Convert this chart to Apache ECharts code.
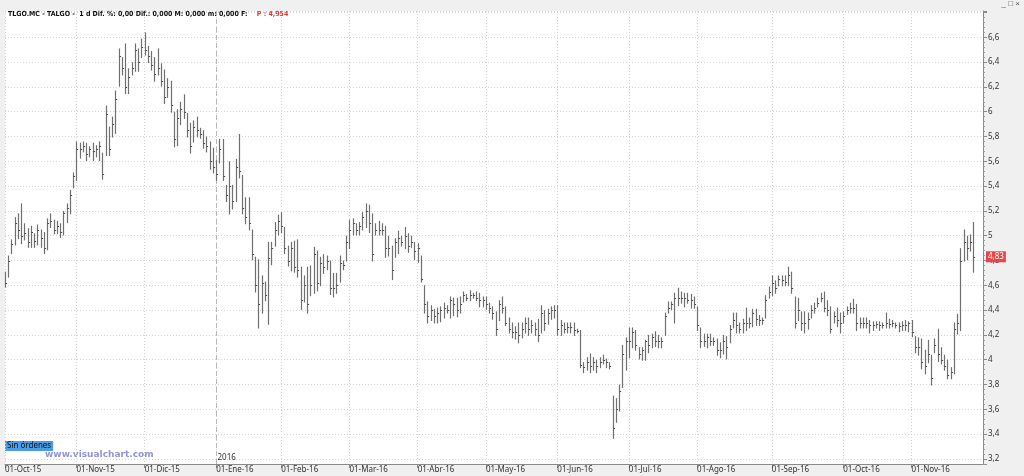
<!DOCTYPE html>
<html><head><meta charset="utf-8">
<script src="https://cdn.jsdelivr.net/npm/echarts@6/dist/echarts.min.js"></script>
<style>html,body{margin:0;padding:0;background:#f0f0f0;}#c{width:1024px;height:476px;}</style>
</head><body><div id="c"></div>
<script>
// month-start tick labels and their trading-day indices
const tickLabels = ['01-Oct-15','01-Nov-15','01-Dic-15','01-Ene-16','01-Feb-16','01-Mar-16','01-Abr-16','01-May-16','01-Jun-16','01-Jul-16','01-Ago-16','01-Sep-16','01-Oct-16','01-Nov-16'];
const monthStartIdx = [0,22,43,65,85,106,127,148,170,192,213,236,258,279];
const yearMarkIdx = 65;
const yearMarkLabel = '2016';
const slotCount = 302;

// daily highs per month
const hiOct15 = [4.71,4.84,4.97,5.15,5.18,5.26,5.10,5.06,5.08,5.02,5.09,5.05,5.03,5.14,5.18,5.13,5.12,5.10,5.20,5.26,5.37,5.51];
const hiNov15 = [5.76,5.75,5.76,5.75,5.72,5.75,5.73,5.76,5.67,6.05,5.88,5.96,6.17,6.51,6.44,6.55,6.35,6.40,6.55,6.51,6.59];
const hiDic15 = [6.64,6.53,6.49,6.44,6.51,6.39,6.34,6.27,6.25,6.00,6.02,6.08,6.14,5.99,5.91,5.93,5.96,5.87,5.85,5.80,5.76,5.71];
const hiEne16 = [5.61,5.78,5.78,5.41,5.60,5.41,5.62,5.82,5.49,5.31,5.31,5.05,4.83,4.81,4.68,4.63,4.95,4.95,5.11,5.17];
const hiFeb16 = [5.19,5.07,4.92,4.95,4.96,4.97,4.75,4.68,4.75,4.76,4.91,4.88,4.83,4.85,4.84,4.80,4.70,4.70,4.84,4.80,5.00];
const hiMar16 = [5.13,5.14,5.10,5.11,5.19,5.26,5.25,5.18,5.10,5.12,5.10,5.08,5.00,4.92,4.98,5.04,5.00,5.07,5.02,5.00,4.95];
const hiAbr16 = [4.94,4.84,4.60,4.47,4.44,4.41,4.42,4.43,4.46,4.44,4.51,4.50,4.50,4.51,4.55,4.53,4.56,4.54,4.55,4.54,4.51];
const hiMay16 = [4.51,4.46,4.43,4.39,4.48,4.51,4.43,4.34,4.30,4.27,4.30,4.30,4.34,4.34,4.32,4.30,4.33,4.44,4.40,4.41,4.43,4.44];
const hiJun16 = [4.44,4.32,4.30,4.30,4.30,4.30,4.25,4.24,3.98,4.02,4.05,4.02,4.00,4.02,4.04,4.01,3.98,3.71,3.69,3.80,4.12,4.18];
const hiJul16 = [4.26,4.26,4.24,4.10,4.10,4.16,4.20,4.21,4.23,4.20,4.18,4.38,4.47,4.47,4.54,4.58,4.55,4.54,4.54,4.53,4.51];
const hiAgo16 = [4.43,4.26,4.21,4.21,4.21,4.18,4.17,4.14,4.20,4.19,4.28,4.38,4.38,4.30,4.33,4.42,4.34,4.41,4.41,4.36,4.34,4.52,4.59];
const hiSep16 = [4.68,4.64,4.68,4.68,4.68,4.75,4.71,4.51,4.50,4.39,4.39,4.38,4.44,4.46,4.50,4.54,4.55,4.48,4.43,4.39,4.42,4.38];
const hiOct16 = [4.39,4.43,4.46,4.49,4.45,4.34,4.34,4.34,4.32,4.31,4.31,4.31,4.30,4.38,4.33,4.32,4.30,4.30,4.31,4.32,4.31];
const hiNov16 = [4.32,4.19,4.18,4.17,4.08,4.16,4.04,4.17,4.25,4.10,4.04,4.00,3.94,4.30,4.37,4.90,5.05,5.00,5.01,5.11];

// daily lows per month
const loOct15 = [4.59,4.67,4.86,4.93,4.98,4.94,4.97,4.91,4.91,4.91,4.93,4.91,4.86,4.89,5.07,5.02,5.02,4.99,5.01,5.11,5.18,5.39];
const loNov15 = [5.45,5.63,5.68,5.61,5.64,5.61,5.64,5.61,5.46,5.65,5.65,5.80,5.83,6.21,6.30,6.15,6.15,6.30,6.33,6.33,6.44];
const loDic15 = [6.46,6.40,6.34,6.25,6.30,6.21,6.07,6.12,6.00,5.72,5.73,5.90,5.95,5.80,5.67,5.76,5.80,5.79,5.71,5.68,5.54,5.51];
const loEne16 = [5.45,5.59,5.45,5.28,5.18,5.22,5.28,5.47,5.18,5.10,5.05,4.81,4.55,4.26,4.38,4.48,4.29,4.77,4.92,5.01];
const loFeb16 = [5.03,4.86,4.76,4.72,4.71,4.67,4.41,4.47,4.38,4.52,4.54,4.56,4.60,4.70,4.73,4.53,4.51,4.54,4.63,4.73,4.80];
const loMar16 = [4.90,5.01,5.01,5.01,5.05,5.07,5.03,4.80,5.01,5.01,5.01,4.83,4.84,4.65,4.83,4.86,4.92,4.90,4.87,4.91,4.81];
const loAbr16 = [4.79,4.63,4.38,4.30,4.32,4.30,4.30,4.31,4.34,4.38,4.34,4.36,4.35,4.38,4.47,4.48,4.48,4.50,4.48,4.43,4.43];
const loMay16 = [4.41,4.38,4.33,4.20,4.32,4.38,4.28,4.22,4.18,4.17,4.14,4.18,4.22,4.20,4.22,4.20,4.15,4.22,4.24,4.29,4.33,4.34];
const loJun16 = [4.20,4.20,4.22,4.22,4.22,4.20,4.22,3.94,3.90,3.92,3.90,3.92,3.90,3.94,3.97,3.94,3.93,3.37,3.50,3.59,3.78,3.92];
const loJul16 = [4.02,4.10,4.08,4.01,4.00,4.00,4.06,4.10,4.11,4.10,4.10,4.20,4.38,4.41,4.30,4.44,4.46,4.43,4.46,4.42,4.42];
const loAgo16 = [4.24,4.10,4.11,4.10,4.12,4.12,4.04,4.02,4.05,4.01,4.14,4.26,4.22,4.22,4.22,4.24,4.26,4.27,4.28,4.28,4.29,4.34,4.50];
const loSep16 = [4.52,4.54,4.60,4.60,4.60,4.60,4.54,4.26,4.32,4.24,4.22,4.25,4.34,4.38,4.43,4.47,4.39,4.36,4.22,4.30,4.27,4.22];
const loOct16 = [4.30,4.37,4.38,4.38,4.24,4.26,4.26,4.26,4.22,4.24,4.26,4.24,4.26,4.26,4.26,4.27,4.26,4.23,4.24,4.24,4.23];
const loNov16 = [4.19,4.06,4.04,3.93,3.89,3.98,3.80,4.06,3.99,3.97,3.92,3.85,3.85,3.89,4.21,4.24,4.80,4.81,4.88,4.71];

// daily closes per month
const clOct15 = [4.62,4.80,4.93,5.10,5.05,5.00,5.02,4.95,5.03,4.96,5.05,4.98,4.90,5.10,5.12,5.05,5.08,5.03,5.18,5.22,5.33,5.48];
const clNov15 = [5.70,5.70,5.72,5.66,5.70,5.68,5.70,5.72,5.50,5.98,5.70,5.90,6.10,6.45,6.35,6.20,6.28,6.35,6.50,6.40,6.52];
const clDic15 = [6.50,6.45,6.38,6.30,6.35,6.25,6.12,6.20,6.05,5.78,5.95,6.02,6.00,5.85,5.72,5.88,5.85,5.82,5.75,5.72,5.60,5.55];
const clEne16 = [5.50,5.70,5.48,5.33,5.40,5.28,5.55,5.52,5.22,5.15,5.10,4.85,4.60,4.45,4.62,4.52,4.82,4.90,5.05,5.12];
const clFeb16 = [5.08,4.90,4.80,4.90,4.75,4.72,4.48,4.60,4.45,4.60,4.85,4.62,4.78,4.75,4.80,4.58,4.58,4.60,4.78,4.76,4.95];
const clMar16 = [5.05,5.10,5.05,5.08,5.15,5.20,5.10,4.85,5.05,5.05,5.05,4.90,4.90,4.72,4.95,4.98,4.95,5.00,4.92,4.95,4.88];
const clAbr16 = [4.90,4.65,4.45,4.35,4.40,4.35,4.38,4.40,4.42,4.40,4.48,4.45,4.40,4.45,4.52,4.50,4.52,4.52,4.50,4.48,4.48];
const clMay16 = [4.45,4.42,4.38,4.25,4.45,4.42,4.30,4.25,4.22,4.22,4.20,4.25,4.30,4.25,4.28,4.25,4.20,4.38,4.30,4.38,4.40,4.40];
const clJun16 = [4.25,4.28,4.25,4.26,4.26,4.24,4.23,3.96,3.94,3.98,3.95,3.98,3.95,3.98,4.00,3.98,3.95,3.45,3.60,3.75,4.05,4.15];
const clJul16 = [4.15,4.22,4.12,4.05,4.08,4.15,4.12,4.18,4.15,4.15,4.15,4.35,4.42,4.45,4.50,4.50,4.50,4.50,4.48,4.48,4.45];
const clAgo16 = [4.28,4.15,4.15,4.18,4.15,4.15,4.08,4.08,4.15,4.10,4.25,4.32,4.28,4.25,4.30,4.30,4.30,4.38,4.33,4.32,4.32,4.48,4.55];
const clSep16 = [4.62,4.58,4.65,4.64,4.63,4.68,4.58,4.30,4.40,4.30,4.30,4.33,4.40,4.42,4.46,4.50,4.42,4.40,4.25,4.35,4.32,4.30];
const clOct16 = [4.35,4.40,4.42,4.42,4.30,4.30,4.30,4.30,4.28,4.28,4.29,4.28,4.28,4.30,4.29,4.30,4.28,4.27,4.28,4.28,4.30];
const clNov16 = [4.22,4.10,4.10,3.98,3.95,4.05,3.85,4.12,4.05,4.00,3.95,3.88,3.90,4.25,4.30,4.80,4.95,4.90,4.95,4.83];

const high = [].concat(hiOct15,hiNov15,hiDic15,hiEne16,hiFeb16,hiMar16,hiAbr16,hiMay16,hiJun16,hiJul16,hiAgo16,hiSep16,hiOct16,hiNov16);
const low = [].concat(loOct15,loNov15,loDic15,loEne16,loFeb16,loMar16,loAbr16,loMay16,loJun16,loJul16,loAgo16,loSep16,loOct16,loNov16);
const close = [].concat(clOct15,clNov15,clDic15,clEne16,clFeb16,clMar16,clAbr16,clMay16,clJun16,clJul16,clAgo16,clSep16,clOct16,clNov16);

const categories = Array.from({length: slotCount}, (_, i) => String(i));
const ohlc = high.map((h, i) => [i, h, low[i], close[i]]);
const lastIdx = ohlc.length - 1;

const chart = echarts.init(document.getElementById('c'), null, {renderer: 'canvas'});
const isMonth = (i) => monthStartIdx.indexOf(i) >= 0;
const fmtNum = (v) => v.toFixed(2).replace('.', ',');
const onStep = (v) => Math.abs(v * 5 - Math.round(v * 5)) < 0.01 && v < 6.7;

chart.setOption({
  animation: false,
  backgroundColor: '#f0f0f0',
  textStyle: {fontFamily: 'Noto Sans'},
  title: {
    left: 3, top: 0,
    text: '{a|TLGO.MC - TALGO -  1 d Dif. %: 0,00 Dif.: 0,000 M: 0,000 m: 0,000 F:}  {b|P : 4,954}',
    textStyle: {rich: {
      a: {fontSize: 7, color: '#111', fontFamily: 'Liberation Sans Narrow, DejaVu Sans Condensed, sans-serif'},
      b: {fontSize: 7, color: '#e23a3a', fontFamily: 'Liberation Sans Narrow, DejaVu Sans Condensed, sans-serif'}
    }}
  },
  grid: {left: 5, right: 41, top: 11, bottom: 12, show: true, backgroundColor: '#ffffff', borderWidth: 0},
  xAxis: {
    type: 'category', data: categories, boundaryGap: false,
    axisLine: {lineStyle: {color: '#8a8a8a', width: 1}},
    axisTick: {show: true, length: 4, interval: (i) => isMonth(i), lineStyle: {color: '#8a8a8a'}},
    axisLabel: {
      interval: (i) => isMonth(i), align: 'left', margin: 2, fontSize: 8, color: '#333',
      formatter: (v, i) => tickLabels[monthStartIdx.indexOf(Number(v))] || ''
    },
    splitLine: {show: true, interval: (i) => isMonth(i), lineStyle: {color: '#d4d4d4', type: [1, 2]}}
  },
  yAxis: {
    type: 'value', position: 'right', min: 3.159, max: 6.812, splitNumber: 18, scale: true,
    axisLine: {show: true, lineStyle: {color: '#8a8a8a'}},
    axisTick: {show: true, length: 4, lineStyle: {color: '#8a8a8a'}},
    minorTick: {show: true, splitNumber: 5, length: 2, lineStyle: {color: '#9a9a9a'}},
    axisLabel: {
      showMinLabel: false, showMaxLabel: false, margin: 5, fontSize: 8, color: '#333',
      formatter: (v) => onStep(v) ? String(Math.round(v * 10) / 10).replace('.', ',') : ''
    },
    splitLine: {show: true, lineStyle: {color: '#d4d4d4', type: [1, 2]}}
  },
  series: [
    {
      type: 'custom', name: 'year', silent: true, z: 1,
      data: [[yearMarkIdx]],
      encode: {x: 0},
      renderItem: (params, api) => {
        const cs = params.coordSys;
        const x = Math.round(api.coord([api.value(0), 5])[0]) + 0.5;
        return {type: 'group', children: [
          {type: 'line', shape: {x1: x, y1: cs.y, x2: x, y2: cs.y + cs.height},
           style: {stroke: '#b8b8b8', lineWidth: 1, lineDash: [5, 3]}},
          {type: 'text', x: x + 1, y: cs.y + cs.height - 2,
           style: {text: yearMarkLabel, fontSize: 8, fill: '#333', textVerticalAlign: 'bottom', fontFamily: 'Noto Sans'}}
        ]};
      }
    },
    {
      type: 'custom', name: 'TLGO', z: 3,
      data: ohlc,
      encode: {x: 0, y: [1, 2, 3]},
      renderItem: (params, api) => {
        const i = api.value(0);
        const pH = api.coord([i, api.value(1)]);
        const pL = api.coord([i, api.value(2)]);
        const pC = api.coord([i, api.value(3)]);
        const x = Math.round(pH[0]) + 0.5;
        const children = [
          {type: 'line', shape: {x1: x, y1: pH[1], x2: x, y2: pL[1] + 1}, style: {stroke: '#6f6f6f', lineWidth: 1.2}},
          {type: 'line', shape: {x1: x, y1: Math.round(pC[1]) + 0.5, x2: x + 1.6, y2: Math.round(pC[1]) + 0.5}, style: {stroke: '#4a4a4a', lineWidth: 1}}
        ];
        if (params.dataIndex === lastIdx) {
          const cs = params.coordSys;
          children.push({type: 'text', x: cs.x + cs.width + 3, y: pC[1],
            style: {text: fmtNum(api.value(3)), fontSize: 8, fill: '#ffffff', backgroundColor: '#e8474a',
                    padding: [2, 2, 1, 2], textVerticalAlign: 'middle', fontFamily: 'Noto Sans'}});
        }
        return {type: 'group', children: children};
      }
    }
  ],
  graphic: [
    {type: 'text', right: 4, top: 0, style: {text: '_ □ ×', fontSize: 8, fill: '#555'}},
    {type: 'text', left: 5, top: 441, style: {text: 'Sin órdenes', fontSize: 8, fill: '#111', backgroundColor: '#4b9be6', padding: [1, 2, 1, 2], fontFamily: 'Noto Sans'}},
    {type: 'text', left: 45, top: 450, style: {text: 'www.visualchart.com', fontSize: 9, fontWeight: 'bold', fill: '#8f95d8', fontFamily: 'DejaVu Sans'}}
  ]
});
</script>
</body></html>
